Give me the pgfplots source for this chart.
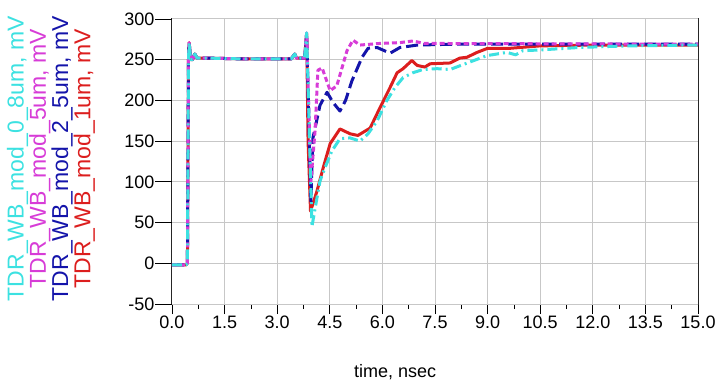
\documentclass[border=0pt]{standalone}
\usepackage{fontspec}
\setmainfont{Liberation Sans}
\usepackage{pgfplots}
\pgfplotsset{compat=1.18}
\definecolor{ccyan}{RGB}{60,225,225}
\definecolor{cmag}{RGB}{215,60,215}
\definecolor{cblue}{RGB}{20,20,170}
\definecolor{cred}{RGB}{220,30,30}
\begin{document}
\begin{tikzpicture}
\useasboundingbox (-172pt,-82pt) rectangle (547pt,304pt);
\begin{axis}[
  at={(0,0)}, anchor=south west, scale only axis,
  width=526pt, height=285pt,
  xmin=0, xmax=15, ymin=-50, ymax=300,
  xtick={0,1.5,3,4.5,6,7.5,9,10.5,12,13.5,15},
  ytick=\empty,
  extra y ticks={-50,0,50,100,150,200,250,300},
  extra y tick style={major tick length=17pt, grid=major, yticklabel style={font=\fontsize{18}{20}\selectfont, inner sep=0.5pt}},
  minor x tick num=1,
  tick pos=left, tick align=outside,
  major tick length=10pt, minor tick length=5pt,
  every tick/.style={black, line width=0.8pt},
  grid=major, grid style={black!22, line width=1pt},
  axis line style={black!85, line width=1pt},
  /pgf/number format/assume math mode=true,
  xticklabel style={font=\fontsize{18}{20}\selectfont, inner sep=2pt, /pgf/number format/fixed, /pgf/number format/fixed zerofill, /pgf/number format/precision=1},
  yticklabel style={font=\fontsize{18}{20}\selectfont, inner sep=0.5pt},
  scaled x ticks=false,
  xlabel={time, nsec},
  xlabel style={font=\fontsize{18}{20}\selectfont, at={(axis description cs:0.424,-0.238)}, anchor=center},
  ylabel={\textcolor{ccyan}{TDR\_WB\_mod\_0\_8um, mV}\\\textcolor{cmag}{TDR\_WB\_mod\_5um, mV}\\\textcolor{cblue}{TDR\_WB\_mod\_2\_5um, mV}\\\textcolor{cred}{TDR\_WB\_mod\_1um, mV}},
  ylabel style={font=\fontsize{23}{20.7}\selectfont, align=center, at={(axis description cs:-0.23,0.51)}, anchor=center},
]
% red: TDR_WB_mod_1um
\addplot[cred, line width=3pt, line join=round] coordinates {
(0,-2) (0.40,-2) (0.44,0) (0.47,250) (0.49,271) (0.53,250) (0.58,250) (0.65,257) (0.72,252) (1.0,252) (2.0,251) (3.4,251) (3.5,257) (3.55,252) (3.78,252) (3.84,282)
(3.88,150) (3.95,64) (4.13,88) (4.31,117) (4.51,147) (4.79,165) (5.08,159) (5.30,157) (5.65,166) (5.93,191) (6.22,216) (6.42,234) (6.59,239) (6.84,249) (6.99,243) (7.21,241) (7.36,245) (7.93,246) (8.21,252) (8.41,253) (8.70,259) (9.0,264) (9.64,264) (10.5,267) (12,268) (15,268)
};
% blue: TDR_WB_mod_2_5um
\addplot[cblue, line width=3pt, dash pattern=on 12pt off 5pt, line join=round] coordinates {
(0,-2) (0.40,-2) (0.44,0) (0.47,250) (0.49,271) (0.53,250) (0.58,250) (0.65,257) (0.72,252) (1.0,252) (2.0,251) (3.4,251) (3.5,257) (3.55,252) (3.78,252) (3.84,282)
(3.96,76) (4.02,154) (4.22,194) (4.42,210) (4.6,197) (4.79,187) (4.95,200) (5.13,224) (5.42,253) (5.59,264) (5.85,265) (6.22,258) (6.5,265) (7,268) (8,269) (15,269)
};
% magenta: TDR_WB_mod_5um
\addplot[cmag, line width=3pt, dash pattern=on 5pt off 3pt, line join=round] coordinates {
(0,-2) (0.40,-2) (0.44,0) (0.47,250) (0.49,271) (0.53,250) (0.58,250) (0.65,257) (0.72,252) (1.0,252) (2.0,251) (3.4,251) (3.5,257) (3.55,252) (3.78,252) (3.84,283)
(3.96,100) (4.08,163) (4.16,237) (4.28,240) (4.51,212) (4.70,218) (4.99,261) (5.16,274) (5.36,268) (5.93,270) (6.5,271) (6.87,273) (7.2,270) (15,269)
};
% cyan: TDR_WB_mod_0_8um
\addplot[ccyan, line width=3pt, dash pattern=on 10pt off 4pt on 2pt off 4pt, line join=round] coordinates {
(0,-2) (0.40,-2) (0.44,0) (0.47,250) (0.49,271) (0.53,250) (0.58,250) (0.65,257) (0.72,252) (1.0,252) (2.0,251) (3.4,251) (3.5,257) (3.55,252) (3.78,252) (3.84,283)
(3.99,45) (4.08,67) (4.22,101) (4.36,117) (4.56,138) (4.79,153) (5.08,154) (5.36,150) (5.59,159) (5.85,175) (6.13,200) (6.36,216) (6.59,228) (6.87,234) (7.16,238) (7.56,239) (7.93,238) (8.3,244) (8.98,255) (9.55,259) (9.8,256) (10.0,261) (10.5,262) (11.6,265) (13,267) (15,268)
};
\end{axis}
\end{tikzpicture}
\end{document}
